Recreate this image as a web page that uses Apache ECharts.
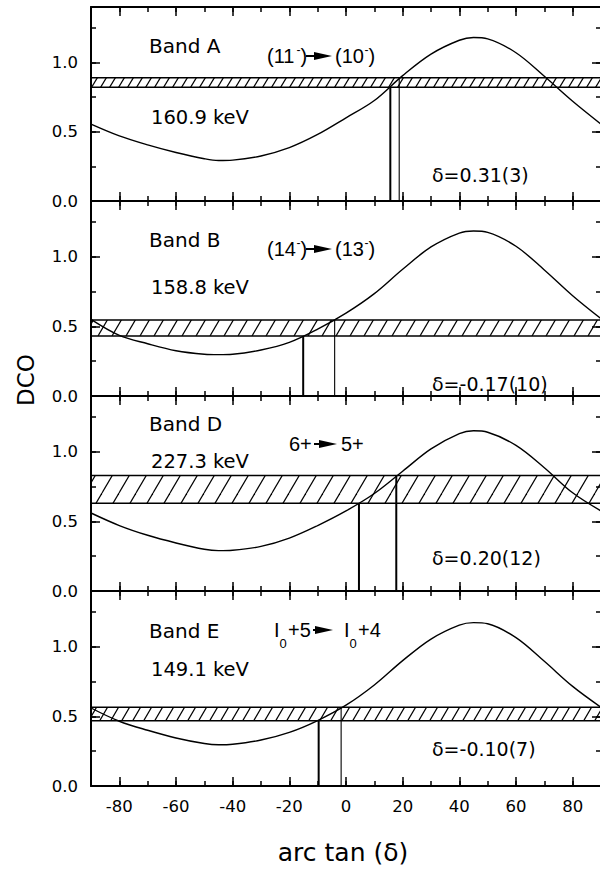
<!DOCTYPE html>
<html>
<head>
<meta charset="utf-8">
<script src="https://cdn.jsdelivr.net/npm/echarts@6/dist/echarts.min.js"></script>
<style>
  html, body { margin: 0; padding: 0; background: #fff; }
  #chart { width: 600px; height: 871px; }
</style>
</head>
<body>
<div id="chart"></div>
<script>
// Mixing-ratio angle grid (degrees) shared by the four DCO curves
const angles = [-90, -80, -70, -60, -50, -45, -40, -30, -20, -10, 0, 10, 20, 30, 40, 45, 50, 60, 70, 80, 90];

// Calculated DCO ratio versus arctan(delta) for each transition
const dcoBandA = [0.555, 0.47, 0.405, 0.35, 0.305, 0.292, 0.295, 0.325, 0.385, 0.48, 0.60, 0.725, 0.905, 1.06, 1.16, 1.18, 1.17, 1.07, 0.90, 0.72, 0.555];
const dcoBandB = [0.55, 0.435, 0.375, 0.325, 0.30, 0.297, 0.30, 0.33, 0.385, 0.48, 0.595, 0.735, 0.91, 1.07, 1.17, 1.185, 1.175, 1.075, 0.905, 0.72, 0.555];
const dcoBandD = [0.56, 0.47, 0.40, 0.345, 0.30, 0.29, 0.293, 0.32, 0.38, 0.47, 0.575, 0.70, 0.86, 1.02, 1.13, 1.15, 1.14, 1.045, 0.885, 0.705, 0.575];
const dcoBandE = [0.56, 0.465, 0.40, 0.345, 0.305, 0.296, 0.30, 0.33, 0.385, 0.47, 0.58, 0.725, 0.90, 1.055, 1.155, 1.173, 1.165, 1.065, 0.895, 0.715, 0.565];

// Measured DCO ratios (lower / upper limits of the hatched band)
const dcoLow  = [0.82, 0.43, 0.63, 0.468];
const dcoHigh = [0.89, 0.545, 0.83, 0.565];

// Extracted mixing ratios and their uncertainties
const deltaVal = [0.31, -0.17, 0.20, -0.10];
const deltaErr = [0.03, 0.10, 0.12, 0.07];

// Panel texts
const bandNames = ['Band A', 'Band B', 'Band D', 'Band E'];
const energies  = ['160.9 keV', '158.8 keV', '227.3 keV', '149.1 keV'];
const spinFrom  = ['11', '14', '6+', '+5'];
const spinTo    = ['10', '13', '5+', '+4'];

// Axis tick labels
const xTickLabels = [-80, -60, -40, -20, 0, 20, 40, 60, 80];
const yTickLabels = [0, 0.5, 1.0];

const FONT = 'DejaVu Sans';
const FONT2 = 'Liberation Sans';
const tops = [7, 201, 396, 591];
const heights = [194, 195, 195, 195];
const curves = [dcoBandA, dcoBandB, dcoBandD, dcoBandE];
const hatchTiles = [[9, 15], [14, 24], [17, 29], [11, 19]];

function hatchImage(w, h) {
  const c = document.createElement('canvas');
  c.width = w; c.height = h;
  const g = c.getContext('2d');
  g.strokeStyle = '#000';
  g.lineWidth = 1.2;
  for (const o of [-w, 0, w]) {
    g.beginPath();
    g.moveTo(o, h);
    g.lineTo(o + w, 0);
    g.stroke();
  }
  return c.toDataURL();
}

const deg = v => Math.atan(v) * 180 / Math.PI;
const tickStyle = { color: '#000', width: 1.5 };

const grid = [], xAxis = [], yAxis = [], series = [];

for (let i = 0; i < 4; i++) {
  grid.push({ left: 91, width: 510, top: tops[i], height: heights[i], outerBoundsMode: 'none' });
  const last = i === 3;

  const xb = { gridIndex: i, type: 'value', min: -90, max: 90, interval: 10, splitLine: { show: false } };
  ['bottom', 'top'].forEach(pos => {
    xAxis.push(Object.assign({}, xb, {
      position: pos,
      axisLine: { show: true, onZero: false, lineStyle: { color: '#000', width: 2 } },
      axisTick: { show: true, inside: true, length: 5, lineStyle: tickStyle },
      axisLabel: (last && pos === 'bottom') ? {
        show: true, customValues: xTickLabels, color: '#000',
        fontSize: 16.5, fontFamily: FONT, margin: 12
      } : { show: false }
    }));
    xAxis.push(Object.assign({}, xb, {
      position: pos,
      axisLine: { show: false, onZero: false },
      axisTick: { show: true, inside: true, length: 9, customValues: xTickLabels, lineStyle: tickStyle },
      axisLabel: { show: false }
    }));
  });

  const yb = { gridIndex: i, type: 'value', min: 0, max: 1.4, interval: 0.25, splitLine: { show: false } };
  ['left', 'right'].forEach(pos => {
    yAxis.push(Object.assign({}, yb, {
      position: pos,
      axisLine: { show: true, onZero: false, lineStyle: { color: '#000', width: 2 } },
      axisTick: { show: true, inside: true, length: 5, lineStyle: tickStyle },
      axisLabel: pos === 'left' ? {
        show: true, customValues: yTickLabels, color: '#000',
        fontSize: 16.5, fontFamily: FONT, margin: 13,
        formatter: v => v.toFixed(1)
      } : { show: false }
    }));
    yAxis.push(Object.assign({}, yb, {
      position: pos,
      axisLine: { show: false, onZero: false },
      axisTick: { show: true, inside: true, length: 9, customValues: yTickLabels, lineStyle: tickStyle },
      axisLabel: { show: false }
    }));
  });

  const xi = i * 4, yi = i * 4;
  const [tw, th] = hatchTiles[i];

  // DCO curve with the measured band
  series.push({
    type: 'line', xAxisIndex: xi, yAxisIndex: yi,
    data: angles.map((a, j) => [a, curves[i][j]]),
    smooth: 0.35, symbol: 'none', silent: true,
    lineStyle: { color: '#000', width: 1.4 },
    markArea: {
      silent: true,
      itemStyle: {
        color: { image: hatchImage(tw, th), repeat: 'repeat', imageWidth: tw, imageHeight: th },
        borderColor: '#000', borderWidth: 1.5
      },
      data: [[{ yAxis: dcoLow[i] }, { yAxis: dcoHigh[i] }]]
    }
  });

  // Intersections bounding the mixing ratio
  const xLo = deg(deltaVal[i] - deltaErr[i]);
  const xHi = deg(deltaVal[i] + deltaErr[i]);
  series.push({
    type: 'line', xAxisIndex: xi, yAxisIndex: yi, symbol: 'none', silent: true,
    data: [[xLo, 0], [xLo, dcoLow[i]]],
    lineStyle: { color: '#000', width: 2 }
  });
  series.push({
    type: 'line', xAxisIndex: xi, yAxisIndex: yi, symbol: 'none', silent: true,
    data: [[xHi, 0], [xHi, dcoHigh[i]]],
    lineStyle: { color: '#000', width: i === 2 ? 2 : 1.1 }
  });
}

// ---- annotations ----
const graphic = [];
function txt(text, x, y, size, font, extra) {
  graphic.push(Object.assign({
    type: 'text', x: x, y: y, silent: true,
    style: { text: text, fontSize: size, fontFamily: font || FONT, fill: '#000', align: 'left', verticalAlign: 'middle' }
  }, extra || {}));
}
function arrow(x0, y, len) {
  graphic.push({
    type: 'line', silent: true,
    shape: { x1: x0, y1: y, x2: x0 + len - 12, y2: y },
    style: { stroke: '#000', lineWidth: 2 }
  });
  graphic.push({
    type: 'polygon', silent: true,
    shape: { points: [[x0 + len - 18, y - 4], [x0 + len, y], [x0 + len - 18, y + 4]] },
    style: { fill: '#000' }
  });
}
// "(nn⁻)" with a small raised minus
function negState(spin, x, y) {
  txt('(' + spin, x, y, 20, FONT2);
  txt('-', x + 29.5, y - 6, 12, FONT2);
  txt(')', x + 33.5, y, 20, FONT2);
}
// "I₀+n"
function bandHead(rest, x, y) {
  txt('I', x, y, 20, FONT2);
  txt('0', x + 5.5, y + 13, 13, FONT2);
  txt(rest, x + 14, y, 20, FONT2);
}

const nameY   = [46, 240, 424, 631];
const energyY = [117, 287, 461, 669];
const transY  = [56, 249, 444, 630];
const deltaY  = [175, 384, 558, 749];

for (let i = 0; i < 4; i++) {
  txt(bandNames[i], 149, nameY[i], 20);
  txt(energies[i], 151, energyY[i], 19.5);
  const err = Math.round(deltaErr[i] * 100);
  txt('\u03B4=' + deltaVal[i].toFixed(2) + '(' + err + ')', 432, deltaY[i], 19);
}
// transitions
for (let i = 0; i < 2; i++) {
  negState(spinFrom[i], 267, transY[i]);
  arrow(306, transY[i], 26);
  negState(spinTo[i], 335, transY[i]);
}
txt(spinFrom[2], 289, transY[2], 20, FONT2);
arrow(314, transY[2], 23);
txt(spinTo[2], 341, transY[2], 20, FONT2);
bandHead(spinFrom[3], 274, transY[3]);
arrow(313, transY[3], 20);
bandHead(spinTo[3], 344, transY[3]);

// axis titles
graphic.push({
  type: 'text', x: 26, y: 380, rotation: Math.PI / 2, silent: true,
  style: { text: 'DCO', fontSize: 23, fontFamily: FONT, fill: '#000', align: 'center', verticalAlign: 'middle' }
});
graphic.push({
  type: 'text', x: 343, y: 852, silent: true,
  style: { text: 'arc tan (\u03B4)', fontSize: 25, fontFamily: FONT, fill: '#000', align: 'center', verticalAlign: 'middle' }
});

const chart = echarts.init(document.getElementById('chart'), null, { renderer: 'svg' });
chart.setOption({
  animation: false,
  backgroundColor: '#fff',
  grid: grid,
  xAxis: xAxis,
  yAxis: yAxis,
  series: series,
  graphic: graphic
});
</script>
</body>
</html>
